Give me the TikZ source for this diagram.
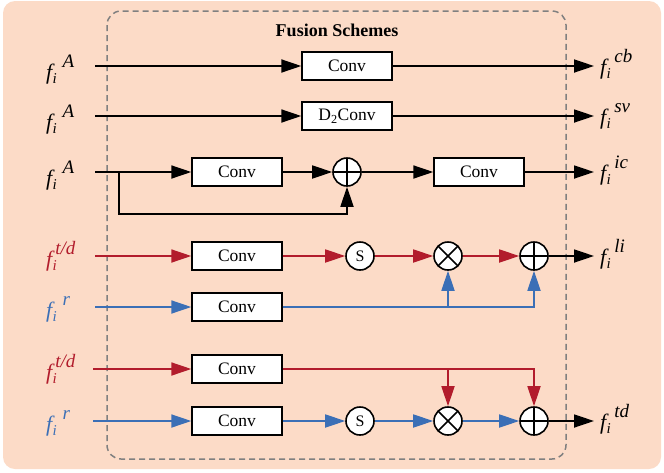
\documentclass[tikz,border=0pt]{standalone}
\usepackage{fontspec}
\setmainfont{Liberation Serif}
\usetikzlibrary{arrows.meta}
\definecolor{peach}{RGB}{252,219,199}
\definecolor{fred}{RGB}{178,28,44}
\definecolor{fblue}{RGB}{59,111,182}
\definecolor{dashgray}{RGB}{128,128,128}
% feature labels: f, subscript i, raised superscript
\newcommand{\feat}[2][0.45em]{\textit{f}\kern-0.1em\rlap{\raisebox{-0.45ex}{\fontsize{15}{17}\selectfont\textit{i}}}\kern#1\raisebox{1.15ex}{\fontsize{19}{21}\selectfont\textit{#2}}}
\tikzset{
  convbox/.style={draw, line width=1.4pt, fill=white, minimum width=90pt,
    minimum height=28pt, inner sep=0pt, font=\fontsize{17.5}{20}\selectfont},
  opcirc/.style={circle, draw, line width=1.6pt, fill=white, minimum size=28pt,
    inner sep=0pt, font=\fontsize{16}{18}\selectfont},
  oplus/.style={opcirc, path picture={
    \draw[line width=1.6pt] (path picture bounding box.north) -- (path picture bounding box.south)
      (path picture bounding box.west) -- (path picture bounding box.east);}},
  otimes/.style={opcirc, path picture={
    \draw[line width=1.6pt] (path picture bounding box.north west) -- (path picture bounding box.south east)
      (path picture bounding box.north east) -- (path picture bounding box.south west);}},
  flow/.style={line width=1.8pt, -{Triangle[length=20pt,width=13pt]}},
  lbl/.style={inner sep=0pt, font=\fontsize{22}{24}\selectfont}
}
\begin{document}
\begin{tikzpicture}[x=1pt, y=-1pt]
  \useasboundingbox (0,0) rectangle (664,472);
  \fill[peach, rounded corners=12pt] (3,1) rectangle (661,469);
  \draw[dashgray, line width=1.5pt, dash pattern=on 6pt off 4pt, rounded corners=14pt]
    (107,11) rectangle (566,459);
  \node[font=\fontsize{18}{20}\selectfont\bfseries] (title) at (337,30) {Fusion Schemes};

  % row 1: plain conv
  \node[lbl, anchor=base west] (inA) at (46,79) {\feat{A}};
  \coordinate (s1) at (95,66);
  \node[convbox] (cb) at (347,66) {Conv};
  \coordinate (e1) at (594,66);
  \node[lbl, anchor=base west] (outcb) at (600,74) {\feat[0.35em]{cb}};
  \draw[flow] (s1) -- (cb);
  \draw[flow] (cb) -- (e1);

  % row 2: dilated conv
  \node[lbl, anchor=base west] (inB) at (46,129) {\feat{A}};
  \coordinate (s2) at (95,116);
  \node[convbox] (sv) at (347,116) {D\textsubscript{2}Conv};
  \coordinate (e2) at (594,116);
  \node[lbl, anchor=base west] (outsv) at (600,124) {\feat[0.35em]{sv}};
  \draw[flow] (s2) -- (sv);
  \draw[flow] (sv) -- (e2);

  % row 3: residual
  \node[lbl, anchor=base west] (inC) at (46,185) {\feat{A}};
  \coordinate (s3) at (95,172);
  \coordinate (br3) at (119,172);
  \node[convbox] (ic1) at (237,172) {Conv};
  \node[oplus] (icsum) at (347,172) {};
  \node[convbox] (ic2) at (479,172) {Conv};
  \coordinate (e3) at (594,172);
  \node[lbl, anchor=base west] (outic) at (600,180) {\feat[0.35em]{ic}};
  \draw[flow] (s3) -- (ic1);
  \draw[flow] (ic1) -- (icsum);
  \draw[flow] (icsum) -- (ic2);
  \draw[flow] (ic2) -- (e3);
  \draw[flow] (br3) |- (347,214) -- (icsum);

  % rows 4-5: gated by thermal/depth
  \node[lbl, anchor=base west, fred] (inT1) at (46,266) {\feat[0.12em]{t/d}};
  \coordinate (s4) at (95,256);
  \node[convbox] (t1) at (237,256) {Conv};
  \node[opcirc] (sg1) at (360,256) {S};
  \node[otimes] (mul1) at (448,256) {};
  \node[oplus] (sum1) at (534,256) {};
  \coordinate (e4) at (594,256);
  \node[lbl, anchor=base west] (outli) at (600,264) {\feat[0.35em]{li}};
  \draw[flow, fred] (s4) -- (t1);
  \draw[flow, fred] (t1) -- (sg1);
  \draw[flow, fred] (sg1) -- (mul1);
  \draw[flow, fred] (mul1) -- (sum1);
  \draw[flow] (sum1) -- (e4);

  \node[lbl, anchor=base west, fblue] (inR1) at (46,317) {\feat{r}};
  \coordinate (s5) at (95,307);
  \node[convbox] (r1) at (237,307) {Conv};
  \draw[flow, fblue] (s5) -- (r1);
  \draw[flow, fblue] (r1) -| (sum1);
  \draw[flow, fblue] (448,307) -- (mul1);

  % rows 6-7: gated by rgb
  \node[lbl, anchor=base west, fred] (inT2) at (46,379) {\feat[0.12em]{t/d}};
  \coordinate (s6) at (93,369);
  \node[convbox] (t2) at (237,369) {Conv};
  \draw[flow, fred] (s6) -- (t2);

  \node[lbl, anchor=base west, fblue] (inR2) at (46,431) {\feat{r}};
  \coordinate (s7) at (93,421);
  \node[convbox] (r2) at (237,421) {Conv};
  \node[opcirc] (sg2) at (360,421) {S};
  \node[otimes] (mul2) at (448,421) {};
  \node[oplus] (sum2) at (534,421) {};
  \coordinate (e7) at (594,421);
  \node[lbl, anchor=base west] (outtd) at (600,429) {\feat[0.35em]{td}};
  \draw[flow, fblue] (s7) -- (r2);
  \draw[flow, fblue] (r2) -- (sg2);
  \draw[flow, fblue] (sg2) -- (mul2);
  \draw[flow, fblue] (mul2) -- (sum2);
  \draw[flow] (sum2) -- (e7);
  \draw[flow, fred] (t2) -| (sum2);
  \draw[flow, fred] (448,369) -- (mul2);
\end{tikzpicture}
\end{document}
